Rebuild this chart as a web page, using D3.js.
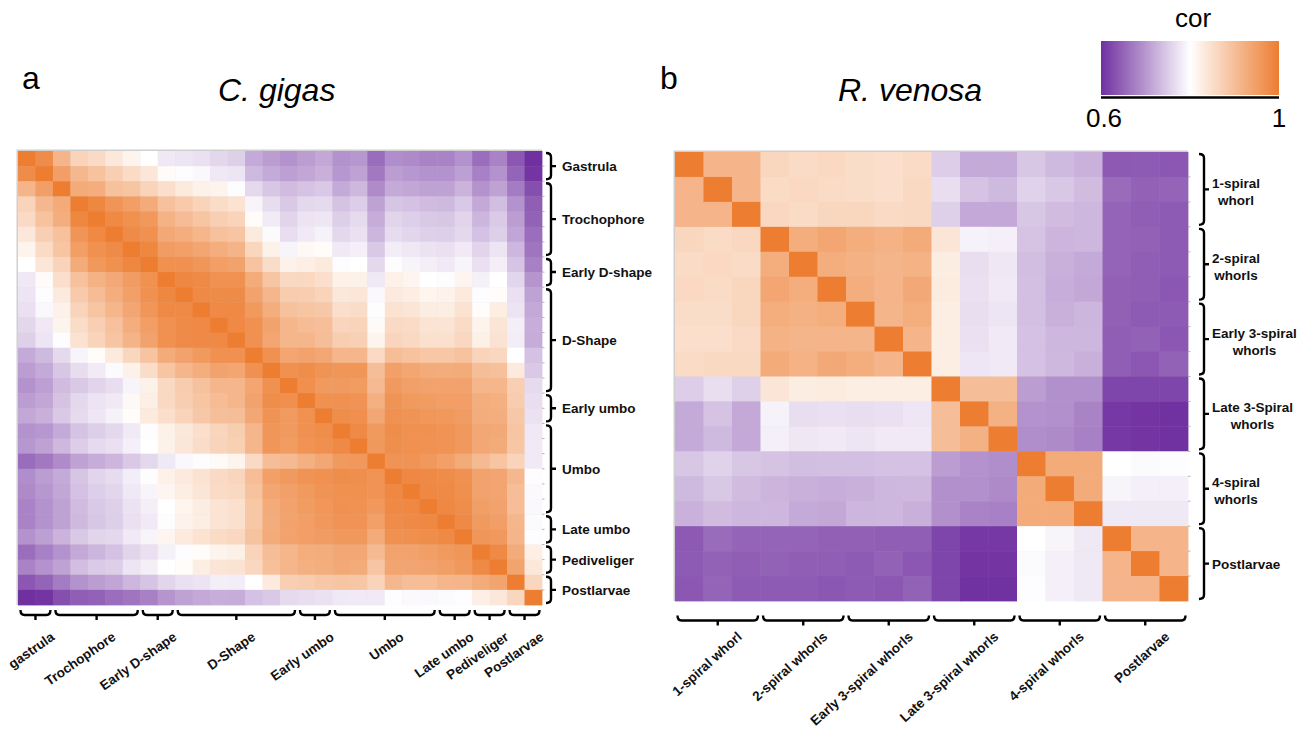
<!DOCTYPE html>
<html>
<head>
<meta charset="utf-8">
<script src="https://cdn.jsdelivr.net/npm/d3@7"></script>
<style>
  body { margin: 0; background: #fff; }
  svg { font-family: "Liberation Sans", Arial, Helvetica, sans-serif; }
  .grp { font-weight: bold; font-size: 13.5px; fill: #111; }
  .brk { fill: none; stroke: #000; stroke-width: 2.4; stroke-linecap: butt; }
</style>
</head>
<body>
<svg id="chart"></svg>
<script>
const width = 1311;
const height = 732;

// C. gigas: upper triangle of the sample correlation matrix (row i holds cols i..29)
const cgUpper = [
  [1, .977, .915, .866, .857, .835, .817, .80, .779, .775, .77, .761, .755, .718, .705, .695, .705, .715, .695, .70, .659, .69, .687, .68, .68, .695, .66, .68, .638, .60],
  [1, .949, .91, .894, .874, .856, .838, .806, .797, .793, .779, .775, .733, .718, .707, .714, .724, .70, .71, .67, .705, .70, .695, .695, .708, .677, .695, .65, .605],
  [1, .929, .925, .895, .89, .866, .85, .833, .82, .817, .797, .763, .745, .735, .742, .748, .718, .731, .688, .718, .714, .71, .71, .727, .695, .71, .673, .63],
  [1, .985, .963, .95, .93, .896, .882, .866, .853, .845, .79, .767, .748, .762, .765, .742, .752, .71, .744, .74, .735, .733, .748, .717, .737, .695, .645],
  [1, .982, .97, .957, .918, .903, .89, .874, .866, .805, .781, .758, .774, .776, .754, .764, .72, .758, .753, .748, .745, .758, .729, .749, .705, .648],
  [1, .978, .97, .932, .925, .913, .896, .889, .832, .795, .768, .78, .787, .762, .77, .729, .766, .76, .755, .753, .762, .74, .754, .713, .66],
  [1, .985, .952, .947, .937, .926, .916, .862, .82, .79, .81, .805, .78, .785, .747, .783, .778, .773, .77, .78, .758, .775, .73, .667],
  [1, .97, .969, .962, .95, .942, .892, .853, .82, .825, .833, .797, .80, .762, .798, .79, .784, .78, .79, .77, .784, .743, .678],
  [1, .984, .98, .969, .969, .93, .89, .858, .86, .85, .822, .82, .778, .822, .815, .80, .798, .815, .786, .80, .76, .698],
  [1, .98, .978, .978, .943, .912, .878, .875, .867, .835, .838, .793, .832, .826, .816, .818, .832, .797, .805, .77, .71],
  [1, .981, .98, .956, .925, .895, .89, .884, .85, .853, .798, .845, .84, .828, .826, .845, .805, .826, .774, .717],
  [1, .981, .969, .942, .912, .903, .899, .864, .866, .808, .857, .855, .842, .842, .855, .817, .84, .784, .722],
  [1, .969, .937, .913, .913, .90, .876, .873, .817, .864, .858, .848, .848, .861, .823, .843, .783, .72],
  [1, .969, .937, .943, .935, .913, .912, .857, .902, .894, .886, .886, .894, .866, .861, .80, .74],
  [1, .97, .975, .965, .962, .962, .90, .947, .937, .93, .928, .93, .90, .897, .832, .748],
  [1, .972, .955, .955, .953, .906, .955, .946, .942, .942, .943, .913, .913, .874, .765],
  [1, .97, .969, .966, .922, .965, .956, .953, .95, .949, .925, .922, .879, .768],
  [1, .975, .972, .935, .969, .965, .96, .957, .952, .928, .925, .884, .771],
  [1, .98, .956, .975, .97, .969, .966, .957, .935, .932, .89, .778],
  [1, .957, .973, .97, .968, .966, .957, .935, .93, .888, .78],
  [1, .966, .964, .957, .947, .93, .906, .89, .867, .78],
  [1, .983, .98, .977, .969, .942, .938, .91, .797],
  [1, .983, .98, .971, .943, .938, .90, .794],
  [1, .983, .975, .948, .942, .902, .793],
  [1, .98, .955, .948, .913, .795],
  [1, .961, .957, .915, .797],
  [1, .98, .93, .825],
  [1, .94, .835],
  [1, .862],
  [1]
];
const cgGroupSizes = [2, 5, 2, 7, 2, 6, 2, 2, 2];
const cgRightLabels = ["Gastrula", "Trochophore", "Early D-shape", "D-Shape", "Early umbo", "Umbo", "Late umbo", "Pediveliger", "Postlarvae"];
const cgBottomLabels = ["gastrula", "Trochophore", "Early D-shape", "D-Shape", "Early umbo", "Umbo", "Late umbo", "Pediveliger", "Postlarvae"];

// R. venosa: upper triangle (row i holds cols i..17)
const rvUpper = [
  [1, .915, .915, .862, .855, .86, .853, .85, .856, .752, .718, .718, .745, .733, .725, .64, .642, .638],
  [1, .915, .856, .86, .855, .853, .85, .858, .768, .742, .732, .757, .746, .735, .657, .648, .65],
  [1, .861, .856, .862, .862, .857, .858, .755, .717, .717, .745, .735, .73, .65, .645, .642],
  [1, .925, .937, .925, .918, .93, .84, .787, .785, .742, .728, .73, .65, .648, .642],
  [1, .925, .92, .914, .918, .828, .768, .777, .737, .724, .718, .65, .645, .642],
  [1, .925, .915, .932, .83, .77, .78, .738, .722, .715, .647, .645, .638],
  [1, .914, .926, .826, .768, .775, .738, .724, .729, .647, .642, .642],
  [1, .915, .826, .77, .78, .74, .73, .73, .645, .648, .638],
  [1, .826, .776, .78, .74, .731, .724, .645, .638, .648],
  [1, .90, .90, .705, .693, .693, .62, .62, .62],
  [1, .92, .695, .693, .68, .608, .605, .602],
  [1, .69, .687, .677, .608, .605, .602],
  [1, .93, .93, .80, .795, .797],
  [1, .93, .79, .785, .785],
  [1, .778, .778, .778],
  [1, .915, .915],
  [1, .915],
  [1]
];
const rvGroupSizes = [3, 3, 3, 3, 3, 3];
const rvRightLabels = [["1-spiral", "whorl"], ["2-spiral", "whorls"], ["Early 3-spiral", "whorls"], ["Late 3-Spiral", "whorls"], ["4-spiral", "whorls"], ["Postlarvae"]];
const rvBottomLabels = ["1-spiral whorl", "2-spiral whorls", "Early 3-spiral whorls", "Late 3-spiral whorls", "4-spiral whorls", "Postlarvae"];

// colour scale
const corDomain = [0.6, 0.8, 1];
const corColors = ["#7030A0", "#ffffff", "#ED7D31"];
const corTicks = [0.6, 1];

const color = d3.scaleLinear().domain(corDomain).range(corColors);

const svg = d3.select("#chart")
    .attr("width", width)
    .attr("height", height);

function toCells(upper) {
    const cells = [];
    upper.forEach((row, i) => {
        row.forEach((v, k) => {
            const j = i + k;
            cells.push({ r: i, c: j, v: v });
            if (j !== i) cells.push({ r: j, c: i, v: v });
        });
    });
    return cells;
}

function groupSpans(sizes) {
    let start = 0;
    return sizes.map(n => {
        const s = { start: start, end: start + n - 1 };
        start += n;
        return s;
    });
}

function vBracket(g, x, y0, y1) {
    const m = (y0 + y1) / 2;
    g.append("path").attr("class", "brk")
        .attr("d", `M${x - 5},${y0} Q${x},${y0} ${x},${y0 + 4} L${x},${y1 - 4} Q${x},${y1} ${x - 5},${y1} M${x},${m} L${x + 5},${m}`);
}

function hBracket(g, x0, x1, y) {
    const m = (x0 + x1) / 2;
    g.append("path").attr("class", "brk")
        .attr("d", `M${x0},${y - 5} Q${x0},${y} ${x0 + 4},${y} L${x1 - 4},${y} Q${x1},${y} ${x1},${y - 5} M${m},${y} L${m},${y + 5}`);
}

function drawHeatmap(opt) {
    const n = opt.upper.length;
    const x = d3.scaleBand().domain(d3.range(n)).range([opt.x0, opt.x1]).padding(0);
    const y = d3.scaleBand().domain(d3.range(n)).range([opt.y0, opt.y1]).padding(0);
    const g = svg.append("g");

    // thin grey frame on top / left
    g.append("rect")
        .attr("x", opt.x0 - 1.5).attr("y", opt.y0 - 1.5)
        .attr("width", opt.x1 - opt.x0 + 1.5).attr("height", opt.y1 - opt.y0 + 1.5)
        .attr("fill", "#cfcfcf");

    g.selectAll(".cell")
        .data(toCells(opt.upper))
        .join("rect")
        .attr("class", "cell")
        .attr("x", d => x(d.c))
        .attr("y", d => y(d.r))
        .attr("width", x.bandwidth() + 0.4)
        .attr("height", y.bandwidth() + 0.4)
        .attr("fill", d => color(d.v));

    // tiny ticks along the right edge
    g.selectAll(".rtick")
        .data(d3.range(1, n))
        .join("line")
        .attr("x1", opt.x1).attr("x2", opt.x1 + 2.5)
        .attr("y1", d => y(d)).attr("y2", d => y(d))
        .attr("stroke", "#b5b5b5").attr("stroke-width", 1);

    const spans = groupSpans(opt.sizes);

    // right-hand brackets and labels
    spans.forEach((s, i) => {
        const top = y(s.start) + 2;
        const bot = y(s.end) + y.bandwidth() - 2;
        vBracket(g, opt.bx, top, bot);
        const cy = (top + bot) / 2;
        const lines = [].concat(opt.rightLabels[i]);
        const t = g.append("text").attr("class", "grp").attr("text-anchor", "middle");
        lines.forEach((l, k) => {
            t.append("tspan")
                .attr("x", 0)
                .attr("y", (k - (lines.length - 1) / 2) * 17 + 5 + (lines.length > 1 ? 2 : 0))
                .text(l);
        });
        const bb = t.node().getBBox();
        t.attr("transform", `translate(${opt.labelX - bb.x},${cy})`);
    });

    // bottom brackets and rotated labels
    spans.forEach((s, i) => {
        const left = x(s.start) + 2.5;
        const right = x(s.end) + x.bandwidth() - 2.5;
        hBracket(g, left, right, opt.by);
        const cx = (left + right) / 2;
        g.append("text").attr("class", "grp")
            .attr("text-anchor", "end")
            .attr("transform", `translate(${cx + opt.lx},${opt.ly}) rotate(${opt.angle})`)
            .text(opt.bottomLabels[i]);
    });
}

drawHeatmap({
    upper: cgUpper, sizes: cgGroupSizes,
    rightLabels: cgRightLabels, bottomLabels: cgBottomLabels,
    x0: 18, x1: 542, y0: 151, y1: 605,
    bx: 551, labelX: 562, by: 615, lx: 20, ly: 639, angle: -35
});

drawHeatmap({
    upper: rvUpper, sizes: rvGroupSizes,
    rightLabels: rvRightLabels, bottomLabels: rvBottomLabels,
    x0: 675, x1: 1188, y0: 152, y1: 601,
    bx: 1204, labelX: 1212, by: 620.5, lx: 25, ly: 638, angle: -42
});

// panel letters and titles
svg.append("text").attr("x", 22).attr("y", 89).attr("font-size", 32).text("a");
svg.append("text").attr("x", 660).attr("y", 89).attr("font-size", 32).text("b");
svg.append("text").attr("x", 218).attr("y", 101).attr("font-size", 32).attr("font-style", "italic").text("C. gigas");
svg.append("text").attr("x", 838).attr("y", 101).attr("font-size", 32).attr("font-style", "italic").text("R. venosa");

// colour legend
const legX = d3.scaleLinear().domain([corDomain[0], corDomain[corDomain.length - 1]]).range([1101, 1279]);
const grad = svg.append("defs").append("linearGradient").attr("id", "corGrad");
d3.range(0, 1.0001, 0.05).forEach(t => {
    const v = corDomain[0] + t * (corDomain[2] - corDomain[0]);
    grad.append("stop").attr("offset", t).attr("stop-color", color(v));
});
svg.append("rect")
    .attr("x", legX.range()[0]).attr("y", 41)
    .attr("width", legX.range()[1] - legX.range()[0]).attr("height", 54)
    .attr("fill", "url(#corGrad)");
svg.append("line")
    .attr("x1", legX.range()[0]).attr("x2", legX.range()[1])
    .attr("y1", 97.5).attr("y2", 97.5)
    .attr("stroke", "#000").attr("stroke-width", 2.5);
svg.append("text").attr("x", 1193).attr("y", 27).attr("text-anchor", "middle").attr("font-size", 26).text("cor");
svg.selectAll(".legtick")
    .data(corTicks)
    .join("text")
    .attr("class", "legtick")
    .attr("x", d => legX(d) + (d === 1 ? 0 : 3))
    .attr("y", 127)
    .attr("text-anchor", "middle")
    .attr("font-size", 26)
    .text(d => d3.format("~g")(d));
</script>
</body>
</html>
